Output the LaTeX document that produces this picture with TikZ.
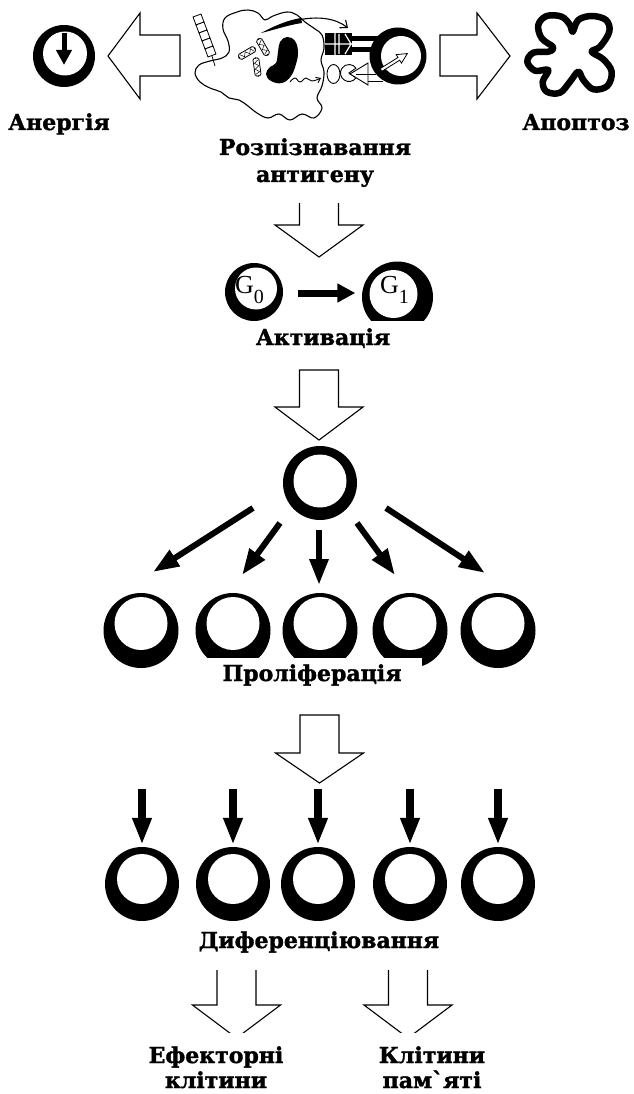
\documentclass[tikz,border=0pt]{standalone}
\usepackage{fontspec}
\newfontfamily\lblfont{DejaVu Serif}[BoldFeatures={FakeBold=1.5}]
\newfontfamily\gfont{Liberation Serif}
\usetikzlibrary{arrows.meta}

\tikzset{
  lbl/.style={font=\lblfont\bfseries\fontsize{22}{27}\selectfont, inner sep=0pt, align=center},
  lbltight/.style={lbl, font=\lblfont\bfseries\fontsize{22}{25}\selectfont},
  glbl/.style={font=\gfont\fontsize{26}{26}\selectfont, inner sep=0pt},
  cellring/.style={circle, fill=black, draw=none, inner sep=0pt},
  hollow/.style={fill=white, draw=black, line width=1.1pt, line join=miter},
  cover/.style={fill=white, draw=none},
  fatarrow/.style={line width=6pt, -{Triangle[length=26pt, width=18pt]}},
  droparrow/.style={line width=7.5pt, -{Triangle[length=27pt, width=18pt]}},
  garrow/.style={line width=7pt, -{Triangle[length=18pt, width=18pt]}},
  outline/.style={line width=1.1pt, line join=round},
}

% cell: name, x, y, outer diameter, inner radius, inner dx, inner dy (upwards)
\newcommand\cellat[7]{%
  \node[cellring, minimum size=#4pt] (#1) at (#2,#3) {};
  \fill[white] (#2+#6,#3-#7) circle (#5);
}
% hollow down arrow: x, shaft top, head base, tip (open top / closed top)
\newcommand\hdownopen[4]{%
  \filldraw[hollow] (#1-19.5,#2) -- (#1-19.5,#3) -- (#1-44,#3) -- (#1,#4)
    -- (#1+44,#3) -- (#1+19.5,#3) -- (#1+19.5,#2);
}
\newcommand\hdownshut[4]{%
  \filldraw[hollow] (#1-19.5,#2) -- (#1-19.5,#3) -- (#1-44,#3) -- (#1,#4)
    -- (#1+44,#3) -- (#1+19.5,#3) -- (#1+19.5,#2) -- cycle;
}
\newcommand\subdigit[1]{\raisebox{-10pt}{\fontsize{20}{20}\selectfont #1}}

\begin{document}
\begin{tikzpicture}[x=1pt,y=-1pt]
\useasboundingbox (0,0) rectangle (633,1094);

% ---------- antigen presenting cell ----------
\draw[outline] plot[smooth cycle, tension=0.65] coordinates {
  (225,18) (237,12) (248,10) (258,13) (265,20) (273,16) (287,12) (297,15)
  (305,22) (315,29) (322,35) (324,48) (321,60) (324,72) (322,86) (317,98)
  (322,108) (314,118) (302,114) (290,120) (279,114) (268,118) (257,113)
  (248,106) (239,100) (229,98) (221,92) (210,88) (200,82) (195,73) (199,65)
  (210,61) (222,58) (229,52) (228,41) (223,29)};

% antigen chain
\foreach \i in {0,...,4}
  \draw[line width=0.8pt, fill=white, rotate around={20:(198.5+3*\i,19.5+8*\i)}]
    (194.25+3*\i,15.25+8*\i) rectangle ++(8.5,8.5);
\draw[line width=0.8pt] (212,56) -- (215,66);

% small rods
\foreach \cx/\cy/\ang in {247/53/30, 263/47/-60, 257/67/-82} {
  \begin{scope}[shift={(\cx,\cy)}, rotate=\ang]
    \draw[line width=0.8pt, rounded corners=1.5pt] (-9,-3) rectangle (9,3);
    \draw[line width=0.5pt] (-7,-2) -- (-4,2) -- (-1,-2) -- (2,2) -- (5,-2) -- (7,2);
    \draw[line width=0.7pt] (-10,0) -- (-8,0) (8,0) -- (10,0);
  \end{scope}
}

% nucleus
\fill plot[smooth cycle, tension=0.7] coordinates {
  (287,37) (295,41) (298,52) (296,64) (291,76) (282,83) (271,81)
  (266,74) (270,67) (276,63) (278,52) (280,42)};

% processed antigen carried to the surface
\fill (261,33) .. controls (274,26) and (288,20) .. (301,18)
      -- (302,23) .. controls (288,25) and (274,30) .. (261,33) -- cycle;
\draw[line width=1.1pt, -{Straight Barb[length=6pt, width=10pt]}]
  (298,20) .. controls (318,16) and (335,18) .. (348,28);

% wavy path from the nucleus
\draw[line width=0.9pt, -{Straight Barb[length=4pt, width=6pt]}]
  plot[smooth, tension=0.7] coordinates {(290,82) (295,78) (300,82) (306,78) (312,81) (321,78)};

% ---------- T cell and contact ----------
\fill (325,33) rectangle (352,55);
\fill (352,36) rectangle (378,41);
\fill (352,47) rectangle (378,52);
\draw[white, line width=1.2pt] (325,44) -- (352,44) (335,33) -- (335,55)
  (339,34) -- (339,54) (345,34) -- (351,44) -- (345,54);

\cellat{tcell}{398}{56}{57}{20}{3}{0}

\begin{scope}[shift={(381,70)}, rotate=32]
  \filldraw[fill=white, draw=black, line width=0.8pt]
    (0,-1.6) -- (21,-1.6) -- (21,-5) -- (31,0) -- (21,5) -- (21,1.6) -- (0,1.6) -- cycle;
\end{scope}

\draw[line width=0.9pt, fill=white] (333.5,74) ellipse (6.5 and 9.5);
\draw[line width=0.9pt, fill=white] (349,73) -- +(35:8.5) arc[start angle=35, end angle=325, radius=8.5] -- cycle;
\draw[line width=0.9pt, fill=white] (350,74) -- (368,63) -- (368,85) -- cycle;
\draw[line width=0.9pt] (356,74) -- (376,74) (368,81) -- (383,81);

% ---------- anergy ----------
\cellat{anergy}{64}{56}{62}{22}{1}{2.5}
\draw[line width=5pt, -{Triangle[length=15pt, width=15pt]}]
  ([yshift=23pt]anergy.center) -- ([yshift=-9pt]anergy.center);

% ---------- apoptosis ----------
\draw[line width=6.5pt, fill=white, line join=round] plot[smooth cycle, tension=0.6] coordinates {
  (572.7,31.7) (578.3,20) (591.7,16) (606,20) (609.3,31.7) (600,46.7)
  (591.7,51.7) (603.3,59.3) (611.7,71.7) (607.3,86) (593.3,89.3) (583.3,80)
  (578.3,71.7) (570,81.7) (560,92.7) (546.7,91.7) (542.7,81.7) (548.3,70)
  (535,70.7) (527.3,61.7) (533.3,52.7) (548.3,51.7) (553.3,47.3)
  (541.7,38.3) (538.3,25) (546.7,16) (561.7,16.7) (570,25)};
\node[inner sep=0pt] (apopt) at (569,56) {};

% side hollow arrows
\filldraw[hollow] (180,35) -- (140,35) -- (140,13) -- (108,56) -- (140,99) -- (140,76) -- (180,76) -- cycle;
\filldraw[hollow] (440,35) -- (477,35) -- (477,13) -- (510,56) -- (477,99) -- (477,76) -- (440,76) -- cycle;

\node[lbl, anchor=base] (anlbl) at (59,130) {Анергія};
\node[lbl, anchor=base] (aplbl) at (576,130) {Апоптоз};
\node[lbl, anchor=base] (reclbl) at (315,182) {Розпізнавання\\антигену};

% ---------- activation ----------
\hdownopen{319}{203}{225}{257}
\cellat{g0}{254}{292}{58}{21}{2}{3.5}
\cellat{g1}{397.5}{297}{71}{24}{-4}{3}
\node[glbl, anchor=base west] (g0t) at (235,293) {G\subdigit{0}};
\node[glbl, anchor=base west] (g1t) at (380,293) {G\subdigit{1}};
\draw[garrow] ([xshift=15pt, yshift=-1pt]g0.east) -- ([xshift=-6.5pt, yshift=-1pt]g0.east -| g1.west);
\fill[cover] (222,321) rectangle (432,352);
\node[lbl, anchor=base] (actlbl) at (323,345) {Активація};

% ---------- proliferation ----------
\hdownshut{319}{370}{407}{440}
\cellat{mom}{320}{483}{74}{26.5}{0}{2}
\coordinate (s1) at (253,508); \coordinate (e1) at (153,572);
\coordinate (s2) at (280,523); \coordinate (e2) at (242,575);
\coordinate (s3) at (319,530); \coordinate (e3) at (319,585);
\coordinate (s4) at (357,523); \coordinate (e4) at (395,575);
\coordinate (s5) at (386,508); \coordinate (e5) at (485,573);
\foreach \k in {1,...,5} \draw[fatarrow] (s\k) -- (e\k);

\foreach \k/\x in {1/141, 2/233, 3/320, 4/410, 5/498}
  {\cellat{p\k}{\x}{630.5}{75}{26.5}{0}{7}}
\fill[cover] (190,658) rectangle (422,695);
\node[lbl, anchor=base] (prolbl) at (312,681) {Проліферація};

% ---------- differentiation ----------
\hdownshut{319.5}{715}{753}{783}
\foreach \k/\x in {1/142, 2/233, 3/318, 4/410, 5/498}
  {\cellat{d\k}{\x}{884}{74}{25}{0}{5}}
\foreach \k in {1,...,5}
  \draw[droparrow] ([yshift=58pt]d\k.north) -- ([yshift=2pt]d\k.north);
\node[lbl, anchor=base] (diflbl) at (319,948) {Диференціювання};

% ---------- outcomes ----------
\begin{scope}
  \clip (0,0) rectangle (633,1032);
  \hdownopen{236.5}{970}{1005}{1038}
  \hdownopen{408}{970}{1005}{1038}
\end{scope}
\node[lbltight, anchor=base] (efflbl) at (216,1088) {Ефекторні\\клітини};
\node[lbltight, anchor=base] (memlbl) at (432,1088) {Клітини\\пам`яті};
\end{tikzpicture}
\end{document}
